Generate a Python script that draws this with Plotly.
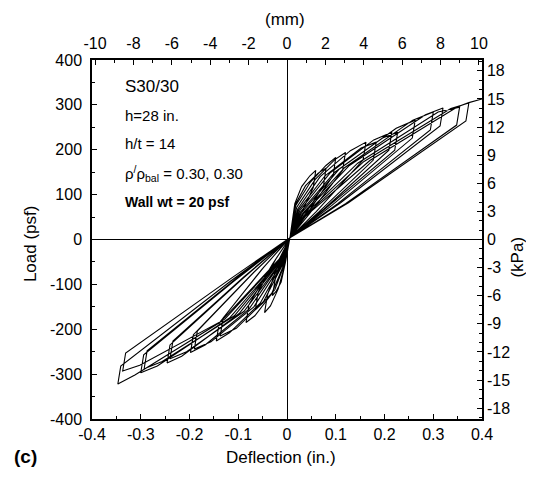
import plotly.graph_objects as go

# Load-deflection cycles (deflection in in., load in psf)
# each cycle: start -> loading branch -> peak -> unloading -> back near origin
pos_cycles_x = [
    [0.006, 0.016, 0.030, 0.047, 0.059, 0.054, 0.022, 0.006],
    [0.006, 0.017, 0.038, 0.064, 0.080, 0.075, 0.030, 0.006],
    [0.006, 0.018, 0.048, 0.080, 0.100, 0.095, 0.038, 0.006],
    [0.006, 0.020, 0.058, 0.098, 0.120, 0.114, 0.045, 0.006],
    [0.006, 0.022, 0.068, 0.130, 0.162, 0.156, 0.060, 0.006],
    [0.006, 0.024, 0.078, 0.152, 0.183, 0.177, 0.066, 0.006],
    [0.006, 0.026, 0.088, 0.178, 0.215, 0.209, 0.076, 0.006],
    [0.006, 0.028, 0.098, 0.196, 0.227, 0.221, 0.080, 0.006],
    [0.006, 0.030, 0.108, 0.224, 0.263, 0.257, 0.092, 0.006],
    [0.006, 0.032, 0.118, 0.258, 0.300, 0.294, 0.104, 0.006],
    [0.006, 0.033, 0.128, 0.284, 0.320, 0.314, 0.110, 0.006],
    [0.006, 0.035, 0.145, 0.310, 0.354, 0.348, 0.120, 0.006],
    [0.006, 0.036, 0.158, 0.336, 0.373, 0.367, 0.126, 0.006],
]
pos_cycles_y = [
    [4, 80, 118, 142, 154, 116, 42, 4],
    [4, 78, 120, 148, 159, 120, 44, 4],
    [4, 76, 128, 165, 183, 143, 52, 4],
    [4, 72, 134, 178, 194, 154, 56, 4],
    [4, 68, 140, 198, 217, 177, 62, 4],
    [4, 66, 142, 204, 217, 177, 62, 4],
    [4, 64, 148, 222, 239, 199, 68, 4],
    [4, 62, 150, 226, 239, 199, 70, 4],
    [4, 60, 158, 248, 266, 226, 76, 4],
    [4, 58, 160, 266, 284, 244, 80, 4],
    [4, 56, 165, 278, 293, 253, 82, 4],
    [4, 54, 170, 284, 295, 255, 80, 4],
    [4, 52, 174, 292, 304, 264, 82, 4],
]
neg_cycles_x = [
    [0.006, -0.002, -0.005, -0.008, -0.010, -0.006, -0.003, 0.006],
    [0.006, -0.003, -0.012, -0.022, -0.030, -0.024, -0.010, 0.006],
    [0.006, -0.004, -0.018, -0.034, -0.046, -0.040, -0.016, 0.006],
    [0.006, -0.005, -0.025, -0.050, -0.065, -0.059, -0.022, 0.006],
    [0.006, -0.006, -0.032, -0.066, -0.084, -0.078, -0.030, 0.006],
    [0.006, -0.007, -0.048, -0.104, -0.137, -0.131, -0.048, 0.006],
    [0.006, -0.008, -0.055, -0.118, -0.145, -0.139, -0.052, 0.006],
    [0.006, -0.009, -0.068, -0.156, -0.190, -0.184, -0.068, 0.006],
    [0.006, -0.010, -0.078, -0.168, -0.198, -0.192, -0.072, 0.006],
    [0.006, -0.011, -0.088, -0.206, -0.240, -0.234, -0.088, 0.006],
    [0.006, -0.012, -0.098, -0.216, -0.246, -0.240, -0.092, 0.006],
    [0.006, -0.013, -0.108, -0.256, -0.293, -0.287, -0.104, 0.006],
    [0.006, -0.014, -0.118, -0.266, -0.300, -0.294, -0.108, 0.006],
    [0.006, -0.015, -0.128, -0.302, -0.337, -0.331, -0.114, 0.006],
    [0.006, -0.016, -0.138, -0.312, -0.347, -0.341, -0.116, 0.006],
]
neg_cycles_y = [
    [4, -25, -45, -60, -70, -45, -20, 4],
    [4, -50, -95, -115, -125, -88, -36, 4],
    [4, -55, -110, -148, -163, -123, -48, 4],
    [4, -55, -112, -142, -157, -117, -42, 4],
    [4, -55, -122, -170, -185, -145, -55, 4],
    [4, -52, -138, -198, -215, -175, -62, 4],
    [4, -50, -142, -208, -226, -186, -67, 4],
    [4, -50, -150, -228, -244, -204, -73, 4],
    [4, -48, -155, -235, -252, -212, -77, 4],
    [4, -48, -160, -250, -266, -226, -83, 4],
    [4, -46, -165, -260, -275, -235, -88, 4],
    [4, -45, -170, -272, -288, -248, -87, 4],
    [4, -45, -175, -282, -297, -257, -92, 4],
    [4, -44, -178, -280, -293, -253, -86, 4],
    [4, -44, -185, -302, -322, -282, -93, 4],
]
# last push to failure
final_x = [0.006, 0.036, 0.170, 0.350, 0.373, 0.400]
final_y = [4, 50, 176, 296, 305, 313]

x_ticks = [-0.4, -0.3, -0.2, -0.1, 0, 0.1, 0.2, 0.3, 0.4]
x_labels = ['-0.4', '-0.3', '-0.2', '-0.1', '0', '0.1', '0.2', '0.3', '0.4']
y_ticks = [-400, -300, -200, -100, 0, 100, 200, 300, 400]
y_labels = ['-400', '-300', '-200', '-100', '0', '100', '200', '300', '400']
mm_ticks = [-10, -8, -6, -4, -2, 0, 2, 4, 6, 8, 10]
mm_labels = ['-10', '-8', '-6', '-4', '-2', '0', '2', '4', '6', '8', '10']
kpa_ticks = [-18, -15, -12, -9, -6, -3, 0, 3, 6, 9, 12, 15, 18]
kpa_labels = ['-18', '-15', '-12', '-9', '-6', '-3', '0', '3', '6', '9', '12', '15', '18']

IN_TO_MM = 25.4
PSF_TO_KPA = 0.04788
X_MAX = 0.4
Y_MAX = 400

path_x, path_y = [], []
for i in range(max(len(pos_cycles_x), len(neg_cycles_x))):
    if i < len(neg_cycles_x):
        path_x += neg_cycles_x[i]
        path_y += neg_cycles_y[i]
    if i < len(pos_cycles_x):
        path_x += pos_cycles_x[i]
        path_y += pos_cycles_y[i]
path_x += final_x
path_y += final_y

FONT = 'Liberation Sans, Arial, sans-serif'

fig = go.Figure()
fig.add_trace(go.Scatter(x=path_x, y=path_y, mode='lines',
                         line=dict(color='black', width=1.1),
                         hoverinfo='skip', showlegend=False))
# dummy trace so the mm / kPa axes get drawn
fig.add_trace(go.Scatter(x=[mm_ticks[0], mm_ticks[-1]], y=[kpa_ticks[0], kpa_ticks[-1]],
                         xaxis='x2', yaxis='y2', mode='markers',
                         marker=dict(opacity=0), hoverinfo='skip', showlegend=False))

axis_style = dict(showline=True, linecolor='black', linewidth=1.5, showgrid=False,
                  automargin=False, ticks='inside', ticklen=5, tickwidth=1,
                  tickcolor='black', tickfont=dict(family=FONT, size=16, color='black'))

# page body has an 8px margin, so the figure is 16px smaller than the window
fig.update_layout(
    width=518, height=461,
    margin=dict(l=84, r=44, t=52, b=50),
    paper_bgcolor='white', plot_bgcolor='white',
    font=dict(family=FONT, color='black'),
    showlegend=False,
    xaxis=dict(range=[-X_MAX, X_MAX], tickmode='array', tickvals=x_ticks, ticktext=x_labels,
               zeroline=True, zerolinecolor='black', zerolinewidth=1,
               minor=dict(dtick=0.05, tick0=0, ticks='inside', ticklen=3, tickcolor='black'),
               **axis_style),
    yaxis=dict(range=[-Y_MAX, Y_MAX], tickmode='array', tickvals=y_ticks, ticktext=y_labels,
               zeroline=True, zerolinecolor='black', zerolinewidth=1, ticklabelstandoff=5,
               minor=dict(dtick=50, tick0=0, ticks='inside', ticklen=3, tickcolor='black'),
               **axis_style),
    xaxis2=dict(range=[-X_MAX * IN_TO_MM, X_MAX * IN_TO_MM], overlaying='x', side='top',
                anchor='y', tickmode='array', tickvals=mm_ticks, ticktext=mm_labels,
                zeroline=False, ticklabelstandoff=3,
                minor=dict(dtick=1, tick0=0, ticks='inside', ticklen=3, tickcolor='black'),
                **axis_style),
    yaxis2=dict(range=[-Y_MAX * PSF_TO_KPA, Y_MAX * PSF_TO_KPA], overlaying='y', side='right',
                anchor='x', tickmode='array', tickvals=kpa_ticks, ticktext=kpa_labels,
                zeroline=False,
                minor=dict(dtick=1, tick0=0, ticks='inside', ticklen=3, tickcolor='black'),
                **axis_style),
)

# axis titles and panel label (paper coords relative to the plot area)
titles = [
    ('(mm)', 0.495, 1.114, 0),
    ('Deflection (in.)', 0.485, -0.108, 0),
    ('Load (psf)', -0.159, 0.49, -90),
    ('(kPa)', 1.09, 0.45, -90),
]
for text, xpos, ypos, angle in titles:
    fig.add_annotation(text=text, xref='paper', yref='paper', x=xpos, y=ypos,
                       xanchor='center', yanchor='middle', textangle=angle, showarrow=False,
                       font=dict(family=FONT, size=17, color='black'))

fig.add_annotation(text='<b>(c)</b>', xref='paper', yref='paper', x=-0.205, y=-0.104,
                   xanchor='left', yanchor='middle', showarrow=False,
                   font=dict(family=FONT, size=19, color='black'))

notes = [
    ('S30/30', 0.925, 17),
    ('h=28 in.', 0.845, 15),
    ('h/t = 14', 0.767, 15),
    ('ρ<sup>/</sup>ρ<sub>bal</sub> = 0.30, 0.30', 0.683, 15),
    ('<b>Wall wt = 20 psf</b>', 0.604, 14),
]
for text, ypos, size in notes:
    fig.add_annotation(text=text, xref='paper', yref='paper', x=0.08, y=ypos,
                       xanchor='left', yanchor='middle', showarrow=False,
                       font=dict(family=FONT, size=size, color='black'))

fig.write_html('out.html')
